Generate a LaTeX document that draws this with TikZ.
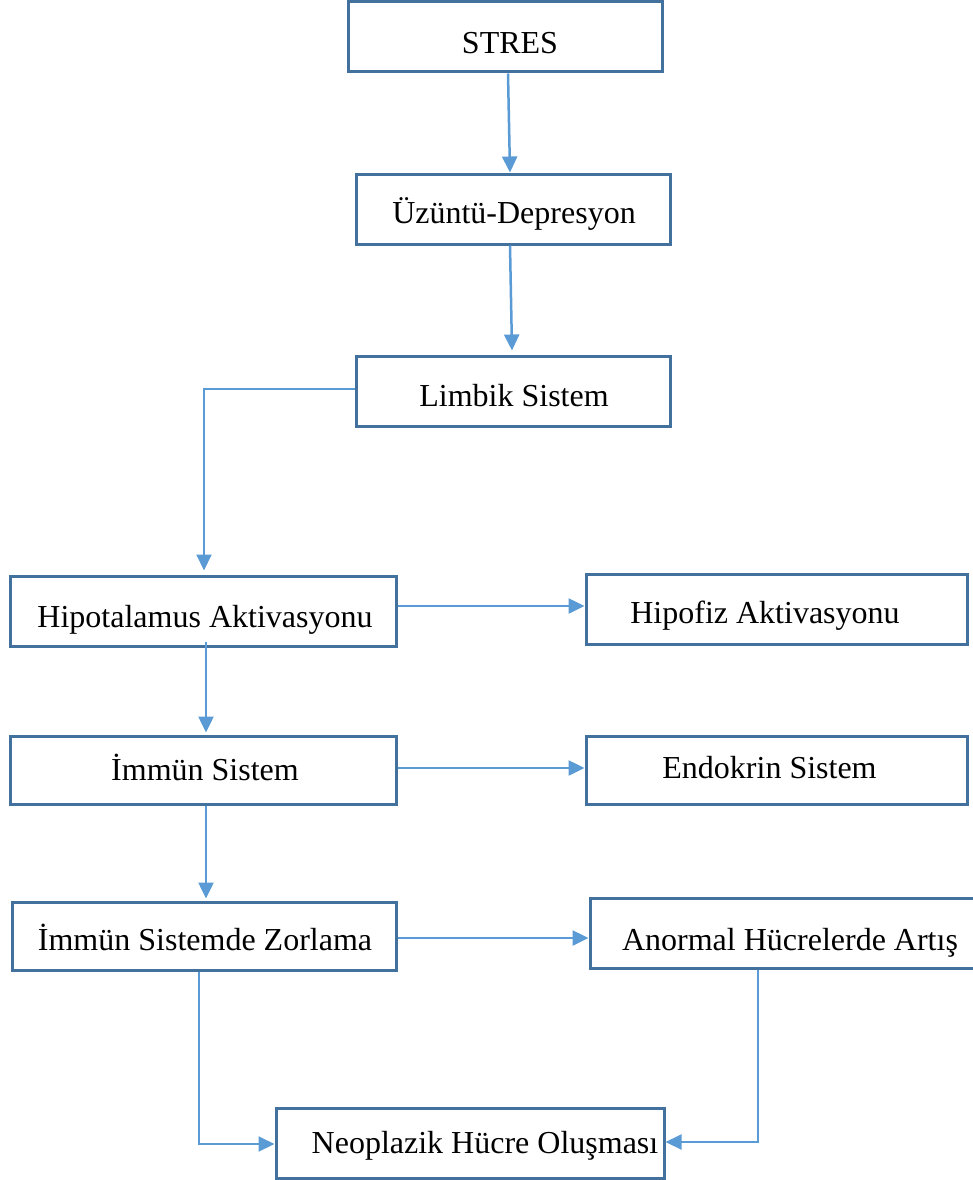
\documentclass[tikz,border=0pt]{standalone}
\usepackage{fontspec}
\setmainfont{Liberation Serif}
\usetikzlibrary{arrows.meta}
\definecolor{boxc}{HTML}{41719C}
\definecolor{arrc}{HTML}{5B9BD5}
\begin{document}
\begin{tikzpicture}[x=1pt,y=-1pt,
  box/.style={draw=boxc,line width=3pt,rectangle,minimum height=70pt,inner sep=0pt},
  txt/.style={anchor=base,inner sep=0pt,font=\fontsize{32}{38}\selectfont},
  conn/.style={draw=arrc,line width=2.5pt,-{Triangle[length=16pt,width=15pt]}},
  thinconn/.style={draw=arrc,line width=2pt,-{Triangle[length=16pt,width=15pt]}}]
\useasboundingbox (0,0) rectangle (973,1180);
% boxes
\node[box,minimum width=314pt] (stres) at (505,37) {};
\node[box,minimum width=314pt] (uz) at (513,209) {};
\node[box,minimum width=314pt] (limbik) at (513,391) {};
\node[box,minimum width=386pt] (hipo) at (203,611) {};
\node[box,minimum width=381pt] (hipof) at (776.5,609) {};
\node[box,minimum width=386pt,minimum height=68pt] (immun) at (203,770) {};
\node[box,minimum width=381pt,minimum height=68pt] (endo) at (776.5,770) {};
\node[box,minimum width=384pt,minimum height=68pt] (zor) at (204,936) {};
\node[box,minimum width=386pt] (anor) at (783,933) {};
\node[box,minimum width=388pt] (neo) at (470,1143) {};
% texts
\node[txt] (t1) at (510,54) {STRES};
\node[txt] (t2) at (514,223) {Üzüntü-Depresyon};
\node[txt] (t3) at (514,406) {Limbik Sistem};
\node[txt] (t4) at (205,627) {Hipotalamus Aktivasyonu};
\node[txt] (t5) at (765,623) {Hipofiz Aktivasyonu};
\node[txt] (t6) at (205,780) {İmmün Sistem};
\node[txt] (t7) at (769.5,778) {Endokrin Sistem};
\node[txt] (t8) at (205,950) {İmmün Sistemde Zorlama};
\node[txt] (t9) at (790,950) {Anormal Hücrelerde Artış};
\node[txt] (t10) at (485,1153) {Neoplazik Hücre Oluşması};
% connectors (yshift is canvas: positive = up)
\draw[conn] ([xshift=3pt]stres.south) -- ([xshift=-3pt]uz.north);
\draw[conn] ([xshift=-3pt]uz.south) -- ([xshift=-1pt,yshift=4pt]limbik.north);
\draw[thinconn] ([yshift=2pt]limbik.west) -| ([xshift=1pt,yshift=4pt]hipo.north);
\draw[conn] ([yshift=5pt]hipo.east) -- ([yshift=3pt]hipof.west);
\draw[conn] ([xshift=3pt,yshift=6pt]hipo.south) -- ([xshift=3pt,yshift=2pt]immun.north);
\draw[conn] ([yshift=2pt]immun.east) -- ([yshift=2pt]endo.west);
\draw[conn] ([xshift=3pt]immun.south) -- ([xshift=2pt,yshift=2pt]zor.north);
\draw[conn] ([yshift=-2pt]zor.east) -- ([yshift=-5pt]anor.west);
\draw[thinconn] ([xshift=-5pt]zor.south) |- ([yshift=-1pt]neo.west);
\draw[thinconn] ([xshift=-25pt]anor.south) |- ([yshift=1pt]neo.east);
\end{tikzpicture}
\end{document}
